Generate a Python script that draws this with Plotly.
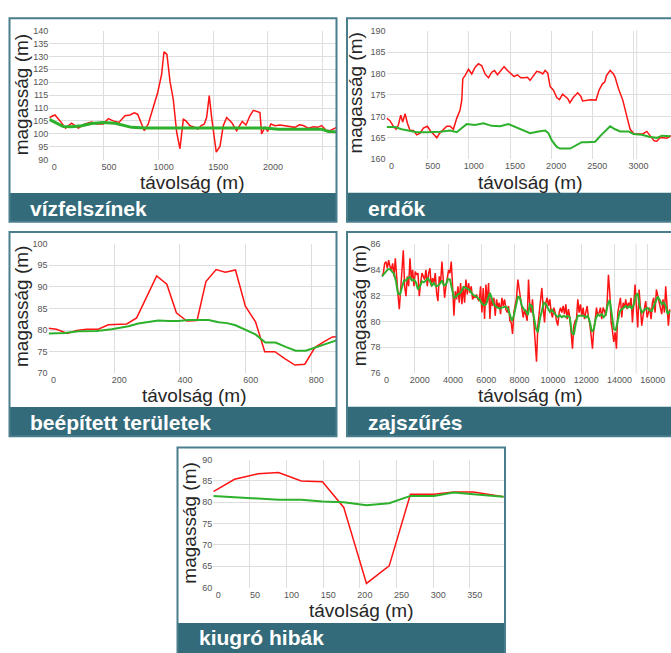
import plotly.graph_objects as go

# ---------------- data ----------------
# vízfelszínek
water_dist = [0, 52, 98, 149, 204, 265, 326, 387, 433, 494, 540, 585, 637, 692, 738, 777, 808, 869, 905, 951,
              991, 1027, 1049, 1076, 1104, 1134, 1165, 1195, 1226, 1250, 1287, 1323, 1357, 1387, 1418, 1439, 1463,
              1485, 1506, 1527, 1561, 1591, 1622, 1668, 1713, 1765, 1799, 1835, 1866, 1912, 1927, 1942, 1973, 1997,
              2027, 2064, 2110, 2155, 2201, 2247, 2287, 2323, 2369, 2415, 2454, 2491, 2537, 2576, 2628]
water_raw = [106.3, 107.3, 105.0, 102.2, 104.1, 102.2, 103.8, 104.6, 103.8, 103.8, 105.9, 105.0, 104.4, 107.0,
             107.3, 108.1, 107.6, 101.2, 103.8, 110.2, 115.9, 122.9, 131.8, 130.8, 120.3, 113.3, 100.6, 94.2,
             105.6, 105.0, 103.1, 102.7, 101.8, 103.1, 103.8, 106.3, 114.8, 106.3, 98.7, 92.9, 95.1, 103.1, 106.3,
             104.4, 101.2, 104.8, 103.4, 107.0, 109.1, 108.6, 108.2, 99.9, 102.7, 100.9, 103.8, 103.1, 103.4,
             103.1, 102.7, 102.5, 103.5, 103.2, 102.2, 102.7, 102.5, 103.2, 101.2, 101.4, 102.5]
water_smooth_dist = [0, 52, 128, 204, 296, 387, 494, 601, 692, 753, 875, 1973, 2095, 2277, 2491, 2552, 2628]
water_smooth = [105.6, 104.4, 102.8, 102.7, 103.1, 104.0, 104.4, 104.1, 103.1, 102.5, 102.2, 102.2, 101.8,
                101.7, 101.8, 100.9, 100.8]

# erdők
forest_dist = [0, 41, 82, 115, 143, 172, 196, 225, 253, 285, 326, 366, 407, 447, 496, 537, 569, 610, 642, 683,
               731, 772, 812, 853, 893, 914, 926, 954, 995, 1035, 1075, 1116, 1157, 1197, 1238, 1278, 1311, 1348,
               1388, 1428, 1469, 1509, 1550, 1590, 1631, 1671, 1712, 1744, 1785, 1825, 1866, 1898, 1927, 1959,
               1987, 2028, 2068, 2101, 2139, 2179, 2200, 2228, 2269, 2322, 2360, 2382, 2431, 2482, 2545, 2582,
               2623, 2651, 2673, 2717, 2758, 2778, 2818, 2871, 2920, 2960, 3009, 3062, 3114, 3163, 3204, 3252,
               3285, 3325, 3366, 3406, 3455]
forest_raw = [169.6, 169.0, 167.7, 167.0, 168.0, 170.3, 168.7, 170.6, 168.4, 166.7, 166.7, 165.7, 166.1, 167.3,
              167.7, 166.5, 165.9, 165.0, 166.0, 166.7, 167.7, 167.7, 167.0, 169.6, 171.5, 173.8, 178.8, 179.5,
              181.0, 179.9, 181.4, 182.3, 181.8, 179.9, 179.0, 180.3, 180.7, 179.7, 180.8, 181.6, 180.7, 180.1,
              179.3, 179.7, 179.0, 179.0, 179.1, 178.4, 179.5, 180.5, 180.3, 179.9, 180.7, 180.1, 177.0, 176.1,
              174.4, 173.9, 175.2, 174.5, 174.2, 173.2, 174.4, 175.5, 174.7, 173.6, 173.8, 173.9, 173.8, 176.1,
              177.6, 178.0, 179.5, 180.7, 179.9, 179.1, 176.5, 173.8, 170.0, 167.0, 165.9, 165.9, 165.9, 166.5,
              165.4, 164.3, 164.2, 165.1, 165.0, 164.9, 165.5]
forest_smooth_dist = [0, 102, 184, 265, 366, 488, 650, 772, 853, 914, 974, 1075, 1177, 1278, 1380, 1481, 1582,
                      1683, 1744, 1846, 1927, 1967, 2008, 2068, 2109, 2231, 2292, 2372, 2433, 2535, 2596, 2656,
                      2717, 2778, 2839, 2940, 3001, 3102, 3204, 3285, 3346, 3447]
forest_smooth = [167.5, 167.5, 167.0, 166.7, 166.3, 166.3, 166.4, 166.7, 166.3, 167.3, 168.2, 168.0, 168.4,
                 167.8, 167.7, 168.2, 167.4, 166.5, 166.1, 166.5, 166.7, 166.1, 164.4, 162.9, 162.5, 162.5,
                 163.2, 164.0, 164.0, 164.1, 165.4, 166.5, 167.7, 167.0, 166.5, 166.5, 165.9, 165.7, 165.2,
                 165.0, 165.5, 165.4]

# beépített területek
urban_dist = [0, 24, 57, 85, 116, 151, 182, 207, 238, 268, 299, 329, 360, 389, 421, 452, 479, 510, 538, 569,
              599, 630, 658, 689, 719, 750, 780, 811, 839, 864, 880]
urban_raw = [80.4, 80.2, 79.2, 79.9, 80.2, 80.2, 81.2, 81.3, 81.4, 82.8, 87.8, 92.5, 90.6, 84.0, 82.1, 82.2,
             91.2, 94.0, 93.4, 93.9, 85.5, 81.9, 75.0, 75.0, 73.4, 71.9, 72.1, 76.0, 77.3, 78.4, 78.5]
urban_smooth_dist = [0, 49, 90, 146, 192, 243, 273, 304, 334, 365, 395, 426, 457, 487, 518, 543, 569, 599, 630,
                     660, 691, 722, 752, 783, 813, 844, 880]
urban_smooth = [79.2, 79.3, 79.7, 79.8, 80.2, 80.9, 81.5, 81.8, 82.2, 82.1, 82.1, 82.3, 82.3, 82.3, 81.8, 81.6,
                81.1, 80.0, 79.0, 77.1, 77.1, 76.1, 75.2, 75.2, 76.0, 76.7, 77.7]

# zajszűrés (profile sampled every 80 m, filtered curve every 120 m)
noise_start, noise_step, noise_smooth_step = 36, 80, 120
noise_raw = [83.47, 83.72, 84.48, 84.61, 84.10, 84.73, 84.23, 83.97, 84.48, 83.47, 84.86, 83.09, 82.08, 80.94,
             82.46, 83.47, 85.49, 82.71, 81.95, 83.47, 82.71, 84.86, 83.22, 83.97, 82.71, 83.85, 83.59, 83.72,
             81.95, 82.96, 83.72, 83.47, 83.22, 83.97, 82.71, 83.72, 84.10, 82.71, 83.34, 82.96, 83.72, 82.20,
             81.57, 83.47, 82.96, 84.61, 82.96, 81.82, 82.71, 83.22, 83.97, 83.72, 84.61, 82.71, 80.43, 82.33,
             81.70, 82.71, 81.44, 82.96, 81.32, 82.71, 81.44, 83.22, 82.08, 82.96, 82.20, 82.71, 81.70, 81.95,
             81.82, 82.08, 81.70,
             81.57, 82.71, 80.68, 82.58, 80.18, 82.84, 81.44, 82.96, 80.18, 81.95, 81.19, 81.82, 80.43, 81.70,
             81.06, 81.44, 80.56, 81.82, 81.19, 81.70, 80.94, 80.68, 81.19, 80.05, 79.92, 79.04, 80.68, 81.44,
             81.82, 83.22, 82.46, 81.44, 80.94, 80.30, 80.94, 80.43, 80.05, 83.22, 81.19, 80.68, 81.70, 79.92,
             78.66, 76.89, 79.67, 80.68, 81.57, 82.58, 81.06, 79.92, 81.44, 81.82, 81.19, 81.70, 80.68, 80.30,
             81.06, 80.68, 80.05, 79.67, 80.68, 81.06, 80.68, 81.19, 80.56, 81.32, 80.18, 80.94, 80.30, 79.16,
             77.90, 79.67, 80.05, 80.18, 81.70,
             80.68, 81.32, 80.43, 81.06, 80.18, 80.81, 81.19, 80.30, 79.80, 78.91, 77.90, 79.42, 80.05, 81.06,
             80.43, 80.68, 81.06, 80.18, 81.06, 80.81, 80.43, 81.44, 83.59, 82.20, 79.92, 79.29, 78.41, 79.16,
             77.90, 80.68, 81.32, 81.82, 80.30, 81.44, 81.06, 81.70, 80.94, 81.44, 81.19, 81.82, 79.92, 81.44,
             82.84, 81.06, 79.54, 82.46, 80.94, 79.67, 80.43, 81.19, 81.57, 80.30, 80.81, 81.06, 80.18, 81.44,
             81.82, 80.68, 82.46, 81.95, 81.57, 81.19, 80.56, 81.70, 80.68, 82.71, 81.44, 79.67, 80.94]
noise_smooth = [83.47, 83.67, 83.90, 84.03, 84.03, 83.85, 83.67, 83.09, 82.15, 82.08, 82.71, 83.16, 83.16, 83.34,
                83.42, 83.16, 83.22, 83.01, 82.46, 82.71, 83.09, 83.01, 83.16, 83.32, 83.09, 82.76, 82.96, 82.71,
                82.76, 82.91, 83.16, 82.76, 82.84, 83.27, 83.22, 82.46, 81.82, 81.90, 82.08, 82.15, 82.41, 82.66,
                82.58, 82.46, 82.41, 82.15, 82.00, 81.95, 81.82,
                81.65, 81.37, 81.24, 81.32, 81.82, 82.20, 81.75, 81.32, 81.14, 81.04, 80.99, 81.06, 81.09, 81.14,
                80.99, 80.56, 80.05, 80.43, 81.14, 81.90, 81.82, 81.19, 80.94, 80.81, 80.48, 81.32, 81.19, 80.18,
                79.47, 79.16, 80.18, 80.81, 81.44, 81.32, 80.99, 80.73, 80.89, 80.63, 80.48, 80.33, 80.48, 80.33,
                80.43, 80.33, 80.43, 80.28, 79.16, 78.96, 79.87, 80.43,
                80.43, 80.43, 80.43, 80.30, 80.43, 79.97, 79.22, 79.37, 80.23, 80.53, 80.43, 80.56, 80.33, 80.53,
                81.32, 81.65, 80.43, 79.42, 79.32, 80.13, 80.78, 80.94, 81.04, 81.19, 81.06, 81.19, 80.99, 81.29,
                82.00, 82.15, 81.14, 80.68, 80.84, 80.99, 81.04, 80.84, 80.81, 81.19, 81.54, 81.90, 81.65, 81.34,
                81.44, 81.19, 80.56, 80.81]
noise_dist = [noise_start + noise_step * i for i in range(len(noise_raw))]
noise_smooth_dist = [noise_start + noise_smooth_step * i for i in range(len(noise_smooth))]

# kiugró hibák
spike_dist = [0, 29, 61, 89, 120, 149, 178, 209, 240, 269, 301, 328, 355, 396]
spike_raw = [82.5, 85.4, 86.7, 87.0, 85.0, 84.8, 78.8, 61.0, 65.1, 81.9, 81.9, 82.4, 82.4, 81.3]
spike_smooth = [81.5, 81.2, 81.0, 80.6, 80.6, 80.2, 80.0, 79.3, 79.8, 81.5, 81.5, 82.3, 81.9, 81.3]

titles = ["vízfelszínek", "erdők", "beépített területek", "zajszűrés", "kiugró hibák"]
x_title = "távolság (m)"
y_title = "magasság (m)"

# ---------------- layout helpers ----------------
W, H = 671, 653
def px(x):
    return x / W
def py(y):
    return 1 - y / H

RED = "#ff1414"
GREEN = "#2db12d"
TEAL = "#336b7a"
BORDER = "#4a7e8c"
GRID = "#dedede"
FONT = "Liberation Sans, Arial, sans-serif"

panels = [
    dict(rx=water_dist, ry=water_raw, gx=water_smooth_dist, gy=water_smooth, gw=3,
         plot=(49.3, 336.5, 26, 157), xr=[0, 2627], yr=[90, 140], xt=[0, 500, 1000, 1500, 2000, 2500],
         xtt=["0", "500", "1000", "1500", "2000", ""], dy=5,
         frame=(9.5, 336.5, 13.5, 220), bar=(191, 220), title_xy=(28, 206.5),
         xtitle=(192.7, 180), ytitle=(21.7, 91)),
    dict(rx=forest_dist, ry=forest_raw, gx=forest_smooth_dist, gy=forest_smooth, gw=2,
         plot=(386.6, 671, 26, 156.7), xr=[0, 3457], yr=[160, 190], xt=[0, 500, 1000, 1500, 2000, 2500, 3000],
         xtt=["0", "500", "1000", "1500", "2000", "2500", "3000"], dy=5, extra=3040,
         frame=(347, 700, 13.5, 220), bar=(190.7, 220), title_xy=(366, 206.5),
         xtitle=(530, 180), ytitle=(356, 90)),
    dict(rx=urban_dist, ry=urban_raw, gx=urban_smooth_dist, gy=urban_smooth, gw=2,
         plot=(48.6, 336, 242.3, 374), xr=[0, 875], yr=[70, 100], xt=[0, 200, 400, 600, 800],
         xtt=["0", "200", "400", "600", "800"], dy=5,
         frame=(9.5, 336.5, 230.5, 438), bar=(408.3, 438), title_xy=(28, 424.5),
         xtitle=(194, 396.7), ytitle=(21.7, 306)),
    dict(rx=noise_dist, ry=noise_raw, gx=noise_smooth_dist, gy=noise_smooth, gw=2,
         plot=(381.4, 671, 242.3, 374), xr=[0, 17393], yr=[76, 86],
         xt=[0, 2000, 4000, 6000, 8000, 10000, 12000, 14000, 16000],
         xtt=["0", "2000", "4000", "6000", "8000", "10000", "12000", "14000", "16000"], dy=2, extra=15300,
         frame=(347, 700, 230.5, 438), bar=(408, 438), title_xy=(366, 424.5),
         xtitle=(530, 396.7), ytitle=(359, 306)),
    dict(rx=spike_dist, ry=spike_raw, gx=spike_dist, gy=spike_smooth, gw=2,
         plot=(213.3, 505, 461.7, 591.7), xr=[0, 398], yr=[60, 90], xt=[0, 50, 100, 150, 200, 250, 300, 350],
         xtt=["0", "50", "100", "150", "200", "250", "300", "350"], dy=5,
         frame=(177.5, 505, 449.5, 700), bar=(627.7, 700), title_xy=(197, 642),
         xtitle=(361.7, 615), ytitle=(190, 526.7)),
]

fig = go.Figure()
shapes = []
annotations = []
layout = dict(width=W, height=H, margin=dict(l=0, r=0, t=0, b=0), showlegend=False,
              paper_bgcolor="white", plot_bgcolor="white")

for i, p in enumerate(panels):
    n = "" if i == 0 else str(i + 1)
    xa, ya = "x" + n, "y" + n
    fig.add_trace(go.Scatter(x=p["rx"], y=p["ry"], xaxis=xa, yaxis=ya, mode="lines",
                             line=dict(color=RED, width=1.5), hoverinfo="skip"))
    fig.add_trace(go.Scatter(x=p["gx"], y=p["gy"], xaxis=xa, yaxis=ya, mode="lines",
                             line=dict(color=GREEN, width=p["gw"]), hoverinfo="skip"))
    x0, x1, y0, y1 = p["plot"]
    xaxis = dict(domain=[px(x0), min(px(x1), 1)], range=p["xr"], anchor=ya, tickmode="array",
                 tickvals=p["xt"], ticktext=p["xtt"], showgrid=True, gridcolor=GRID, gridwidth=1,
                 zeroline=False, showline=False, ticks="",
                 tickfont=dict(family=FONT, size=9, color="#555555"), ticklabelshift=5)
    yaxis = dict(domain=[py(y1), py(y0)], range=p["yr"], anchor=xa, dtick=p["dy"], tick0=0,
                 showgrid=True, gridcolor=GRID, gridwidth=1, zeroline=False, showline=False, ticks="",
                 tickfont=dict(family=FONT, size=9, color="#555555"), ticklabelstandoff=0)
    layout["xaxis" + n] = xaxis
    layout["yaxis" + n] = yaxis

    if "extra" in p:
        shapes.append(dict(type="line", xref=xa, yref=ya + " domain", x0=p["extra"], x1=p["extra"],
                           y0=0, y1=1, line=dict(color=GRID, width=1), layer="below"))

    fx0, fx1, fy0, fy1 = p["frame"]
    by0, by1 = p["bar"]
    shapes.append(dict(type="rect", xref="paper", yref="paper", x0=px(fx0), x1=px(fx1),
                       y0=py(by1), y1=py(by0), fillcolor=TEAL, line=dict(width=0), layer="above"))
    shapes.append(dict(type="rect", xref="paper", yref="paper", x0=px(fx0), x1=px(fx1),
                       y0=py(fy1), y1=py(fy0), fillcolor="rgba(0,0,0,0)",
                       line=dict(color=BORDER, width=2), layer="above"))
    tx, ty = p["title_xy"]
    annotations.append(dict(xref="paper", yref="paper", x=px(tx), y=py(ty), xanchor="left", yanchor="middle",
                            text="<b>" + titles[i] + "</b>", showarrow=False,
                            font=dict(family=FONT, size=21, color="white")))
    ax_, ay_ = p["xtitle"]
    annotations.append(dict(xref="paper", yref="paper", x=px(ax_), y=py(ay_), xanchor="center",
                            yanchor="middle", text=x_title, showarrow=False,
                            font=dict(family=FONT, size=19, color="#262626")))
    bx_, by_ = p["ytitle"]
    annotations.append(dict(xref="paper", yref="paper", x=px(bx_), y=py(by_), xanchor="center",
                            yanchor="middle", text=y_title, textangle=-90, showarrow=False,
                            font=dict(family=FONT, size=19, color="#262626")))

layout["shapes"] = shapes
layout["annotations"] = annotations
fig.update_layout(**layout)
fig.write_html("out.html", config={"displayModeBar": False},
               post_script="document.body.style.margin='0';document.body.style.overflow='hidden';")
